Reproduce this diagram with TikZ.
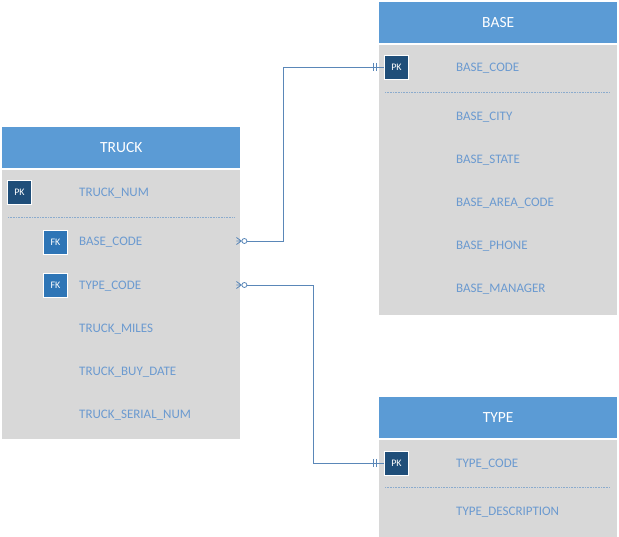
\documentclass[tikz,border=0pt]{standalone}
\usepackage{fontspec}
\setmainfont{Carlito}
\usetikzlibrary{positioning}
\definecolor{headblue}{HTML}{5B9BD5}
\definecolor{bodygray}{HTML}{D8D8D8}
\definecolor{pknavy}{HTML}{1F4E79}
\definecolor{fkblue}{HTML}{2E75B6}
\definecolor{fieldtxt}{HTML}{6B9AD0}
\definecolor{relline}{HTML}{5A87B8}
\tikzset{
  head/.style={rectangle, fill=headblue, text=white, minimum width=238pt, minimum height=41pt,
    inner sep=0pt, font=\fontsize{15.5}{17}\selectfont, anchor=north west},
  body/.style={rectangle, fill=bodygray, minimum width=238pt, inner sep=0pt, anchor=north},
  field/.style={anchor=west, text=fieldtxt, inner sep=0pt, yshift=-1.5pt, font=\fontsize{13}{15}\selectfont},
  keybox/.style={rectangle, draw=white, line width=0.8pt, text=white, minimum size=24pt,
    inner sep=0pt, font=\fontsize{10}{11}\selectfont},
  pk/.style={keybox, fill=pknavy},
  fk/.style={keybox, fill=fkblue},
  sep/.style={draw=relline!70, densely dotted, line width=0.6pt},
  rel/.style={draw=relline, line width=0.8pt}
}
\begin{document}
\begin{tikzpicture}[x=1pt, y=-1pt]
\useasboundingbox (0,0) rectangle (619,537);
% TRUCK
\node[head] (truckh) at (2,127) {TRUCK};
\node[body, minimum height=269pt] (truck) at ([yshift=-1pt]truckh.south) {};
\node[pk] (tpk) at (19.5,192) {PK};
\node[field] (tnum) at (79,192) {TRUCK\_NUM};
\draw[sep] (8,217) -- (234,217);
\node[fk] (tfk1) at (55.5,242) {FK};
\node[field] (tbase) at (79,241) {BASE\_CODE};
\node[fk] (tfk2) at (55.5,285) {FK};
\node[field] (ttype) at (79,285) {TYPE\_CODE};
\node[field] (tmiles) at (79,328) {TRUCK\_MILES};
\node[field] (tdate) at (79,371) {TRUCK\_BUY\_DATE};
\node[field] (tserial) at (79,414) {TRUCK\_SERIAL\_NUM};
% BASE
\node[head] (baseh) at (379,2) {BASE};
\node[body, minimum height=270pt] (base) at ([yshift=-1pt]baseh.south) {};
\node[pk] (bpk) at (396.5,67) {PK};
\node[field] (bcode) at (456,67) {BASE\_CODE};
\draw[sep] (385,92) -- (610,92);
\node[field] (bcity) at (456,116) {BASE\_CITY};
\node[field] (bstate) at (456,159) {BASE\_STATE};
\node[field] (barea) at (456,202) {BASE\_AREA\_CODE};
\node[field] (bphone) at (456,245) {BASE\_PHONE};
\node[field] (bman) at (456,288) {BASE\_MANAGER};
% TYPE
\node[head] (typeh) at (379,397) {TYPE};
\node[body, minimum height=97pt] (type) at ([yshift=-1pt]typeh.south) {};
\node[pk] (ypk) at (396.5,463) {PK};
\node[field] (ycode) at (456,463) {TYPE\_CODE};
\draw[sep] (385,487) -- (610,487);
\node[field] (ydesc) at (456,511) {TYPE\_DESCRIPTION};
% relationships
\coordinate (m1) at (truck.east |- 0,241);
\coordinate (m2) at (truck.east |- 0,285);
\draw[rel] ([xshift=6.5pt]m1) -- (283,241) |- (bpk.west);
\draw[rel] ([xshift=6.5pt]m2) -- (313,285) |- (ypk.west);
\foreach \m in {m1,m2} {
  \draw[rel] ([xshift=1pt]\m) -- ++(-5,-3.5) ([xshift=1pt]\m) -- ++(-5,0) ([xshift=1pt]\m) -- ++(-5,3.5);
  \draw[rel] ([xshift=4pt]\m) circle (2.5pt);
}
\foreach \p in {bpk,ypk} {
  \draw[rel] ([xshift=-11pt]\p.west) ++(0,-4) -- ++(0,8);
  \draw[rel] ([xshift=-8pt]\p.west) ++(0,-4) -- ++(0,8);
}
\end{tikzpicture}
\end{document}
